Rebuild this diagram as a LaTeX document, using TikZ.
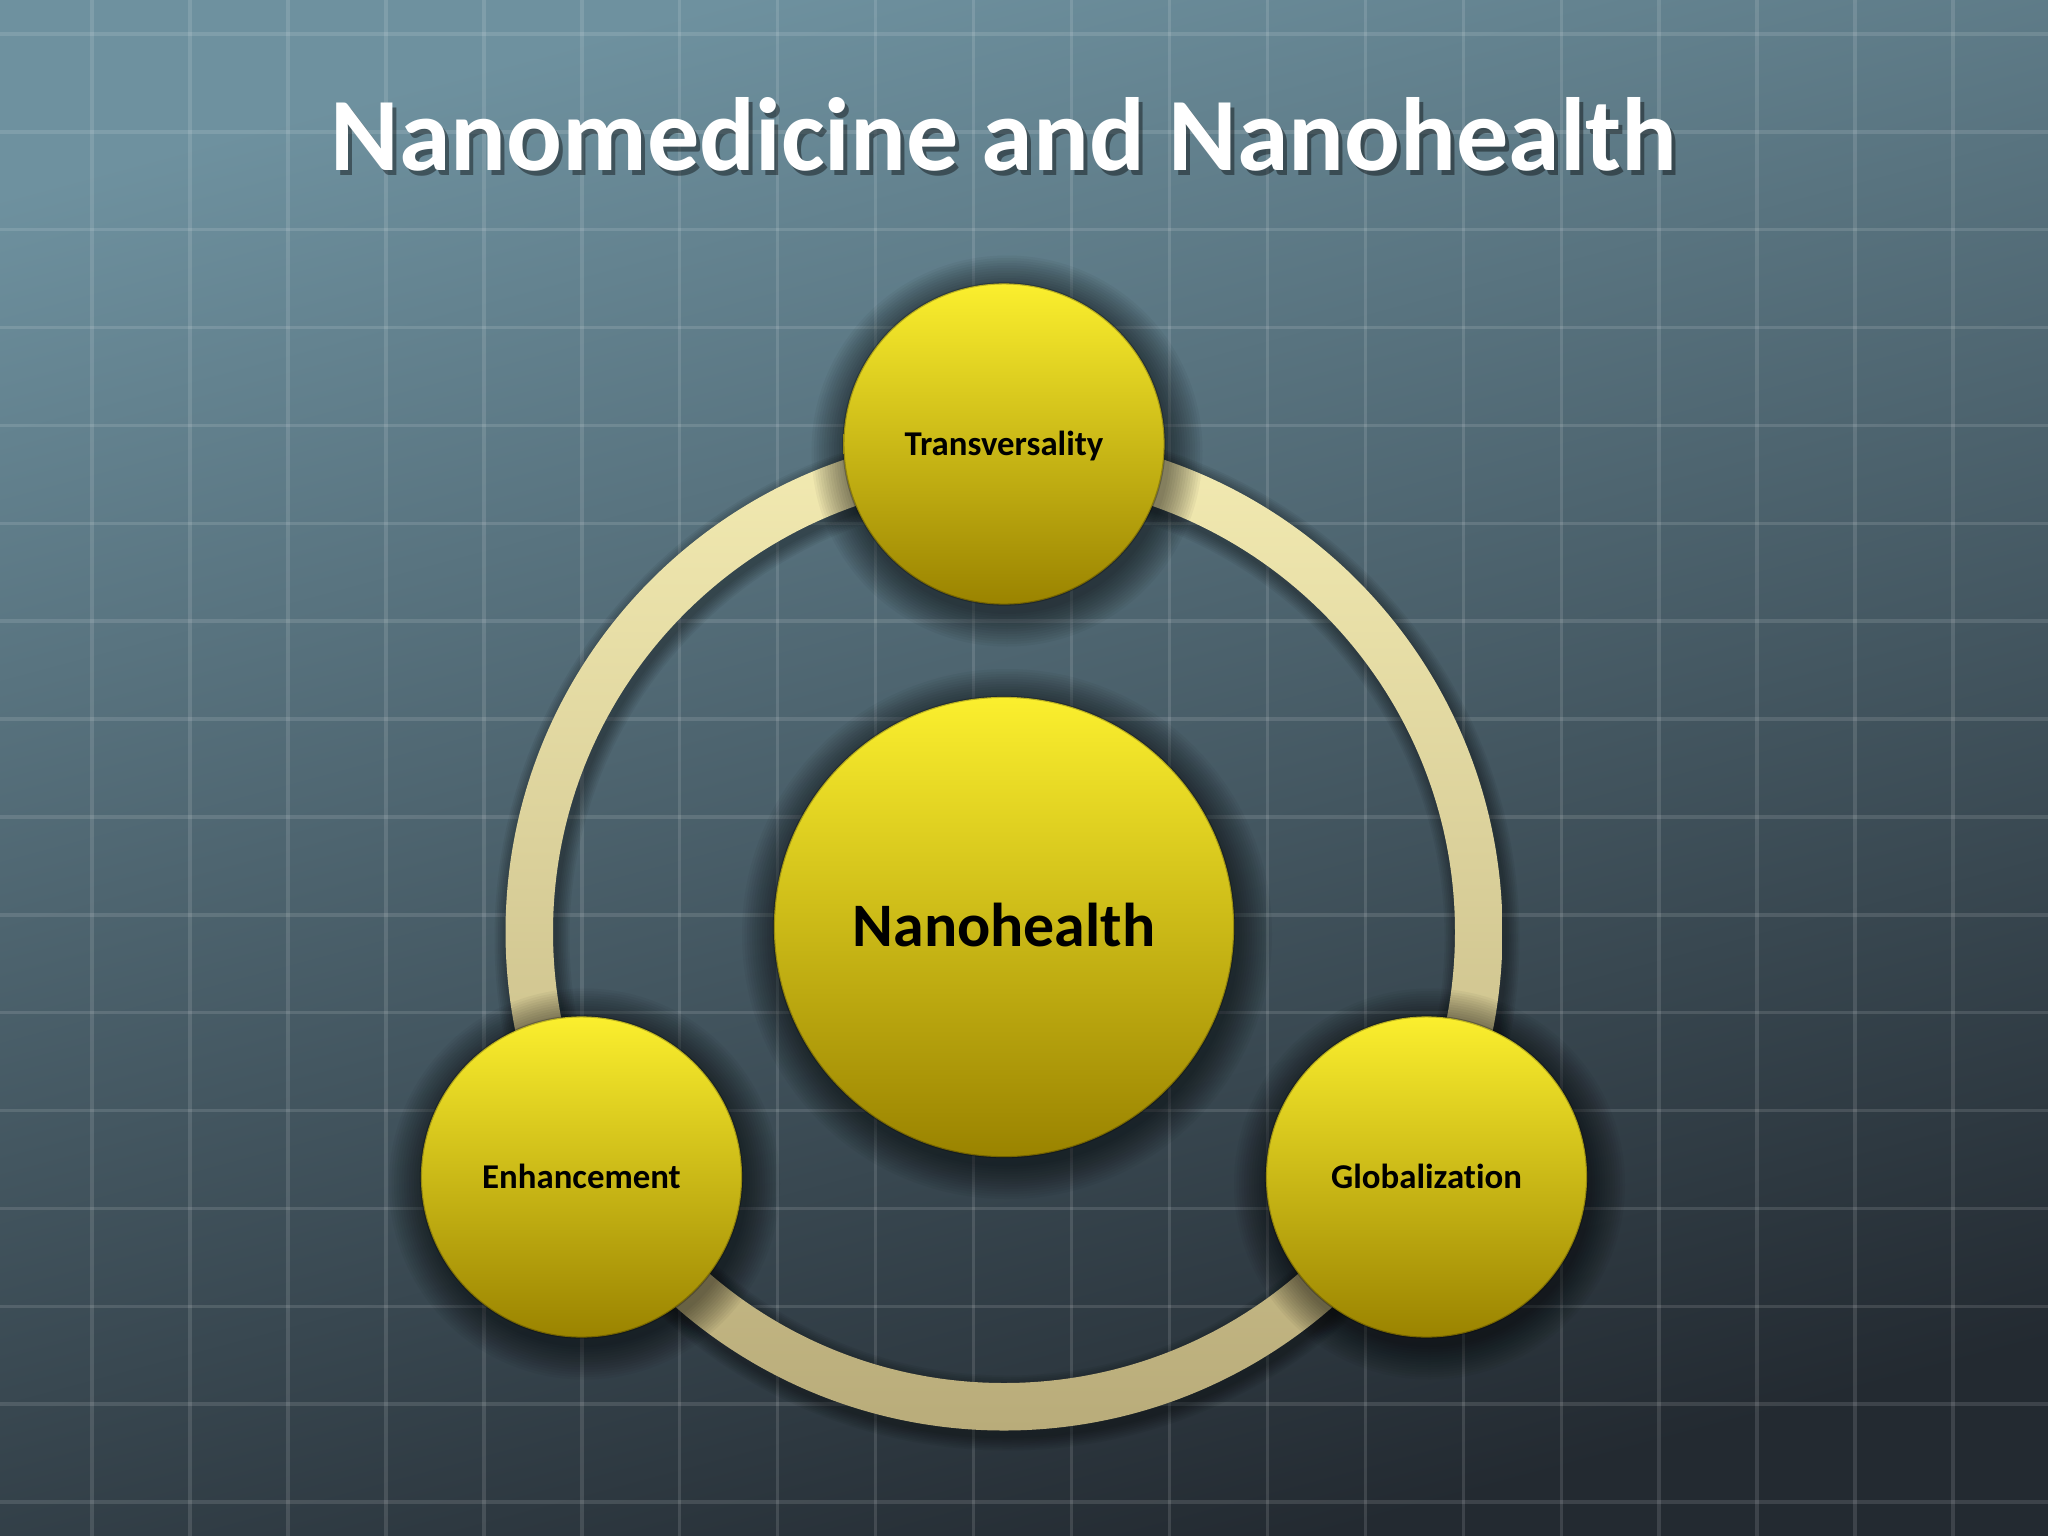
\documentclass[tikz,border=0pt]{standalone}
\usepackage{fontspec}
\setmainfont{Carlito}[Ligatures={NoCommon}]
\usetikzlibrary{calc}
\definecolor{bgtop}{HTML}{6E919F}
\definecolor{bgmid}{HTML}{425A68}
\definecolor{bgbot}{HTML}{232A31}
\definecolor{yeltop}{HTML}{FBEF2E}
\definecolor{yelmid}{HTML}{DCC500}
\definecolor{yelbot}{HTML}{9A8300}
\definecolor{ringtop}{HTML}{F3EBB2}
\definecolor{ringbot}{HTML}{B9AC7A}
\newcommand\ballshadow[2]{%
  \foreach \k in {1,...,14}{\fill[black,opacity=0.04] ($(#1)+(3,-7)$) circle[radius={#2+2.5*\k}];}}
\begin{document}
\begin{tikzpicture}[x=0.01cm,y=0.01cm,
  ball/.style={circle, inner sep=0pt, shade, top color=yeltop, middle color=yelmid, bottom color=yelbot,
    draw=black, draw opacity=0.25, line width=0.6pt, text=black},
  smallball/.style={ball, minimum size=3.21cm, font=\fontsize{9.9}{12}\selectfont\bfseries,
    text height=6.26pt, text depth=0pt},
  bigball/.style={ball, minimum size=4.6cm, font=\fontsize{17.6}{21}\selectfont\bfseries,
    text height=11.1pt, text depth=0pt},
  gridline/.style={white, opacity=0.12, line width=0.035cm},
  titlefont/.style={font=\fontsize{29.6}{35}\selectfont\bfseries, anchor=base, inner sep=0pt}]
% background
\shade[top color=bgtop, middle color=bgmid, bottom color=bgbot, shading angle=15] (0,0) rectangle (2048,-1536);
\useasboundingbox (0,0) rectangle (2048,-1536);
% grid
\foreach \i in {0,...,19} \draw[gridline] ({92+97.95*\i},0) -- ({92+97.95*\i},-1536);
\foreach \j in {0,...,15} \draw[gridline] (0,{-34-97.87*\j}) -- (2048,{-34-97.87*\j});
% title
\node[titlefont, text=black, opacity=0.4] (titleshadow) at (1008,-175.7) {Nanomedicine and Nanohealth};
\node[titlefont, text=white] (title) at (1004,-170.7) {Nanomedicine and Nanohealth};
% positions
\coordinate (rc) at (1004,-932);
\coordinate (ptrans) at (1004,-444);
\coordinate (pnano) at (1004,-927);
\coordinate (penh) at (581.5,-1177);
\coordinate (pglob) at (1426.5,-1177);
% ring shadow and ring
\foreach \k in {1,...,8}{\draw[black, opacity=0.05, line width={(47+3.5*\k)*0.01cm}] ($(rc)+(3,-6)$) circle[radius=475];}
\shade[even odd rule, top color=ringtop, bottom color=ringbot] (rc) circle[radius=498.5] (rc) circle[radius=451];
% ball shadows
\ballshadow{ptrans}{160.5}
\ballshadow{pnano}{230}
\ballshadow{penh}{160.5}
\ballshadow{pglob}{160.5}
% balls
\node[smallball] (trans) at (ptrans) {Transversality};
\node[bigball] (nano) at (pnano) {Nanohealth};
\node[smallball] (enh) at (penh) {Enhancement};
\node[smallball] (glob) at (pglob) {Globalization};
\end{tikzpicture}
\end{document}
